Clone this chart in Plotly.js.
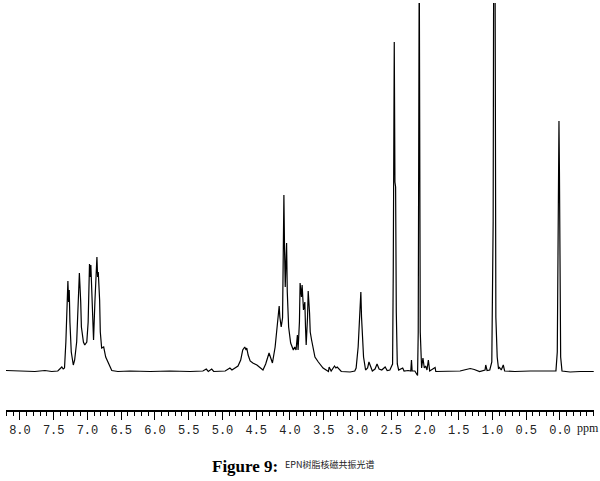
<!DOCTYPE html>
<html>
<head>
<meta charset="utf-8">
<script src="https://cdn.plot.ly/plotly-3.0.1.min.js"></script>
<style>html,body{margin:0;padding:0;background:#fff;}#chart{width:600px;height:481px;}</style>
</head>
<body>
<div id="chart"></div>
<script>
// chemical shift (ppm)
var ppm = [8.21,8.00,7.78,7.63,7.53,7.44,7.38,7.36,7.34,7.32,7.30,7.29,7.28,7.27,7.26,7.24,7.21,7.19,7.16,7.14,7.12,7.10,7.09,7.06,7.04,7.01,6.99,6.97,6.96,6.95,6.93,6.91,6.89,6.86,6.85,6.84,6.82,6.81,6.79,6.76,6.73,6.69,6.64,6.55,6.37,6.07,5.78,5.48,5.29,5.24,5.21,5.16,5.13,4.96,4.89,4.86,4.81,4.77,4.73,4.70,4.67,4.65,4.64,4.62,4.59,4.55,4.49,4.44,4.40,4.36,4.31,4.29,4.26,4.22,4.20,4.18,4.16,4.15,4.13,4.11,4.09,4.08,4.07,4.06,4.05,4.04,4.02,3.99,3.95,3.93,3.91,3.89,3.88,3.86,3.85,3.83,3.82,3.80,3.78,3.77,3.76,3.74,3.73,3.71,3.70,3.68,3.65,3.63,3.58,3.55,3.51,3.43,3.42,3.39,3.34,3.32,3.30,3.24,3.11,3.04,3.02,2.99,2.97,2.95,2.94,2.91,2.88,2.85,2.83,2.80,2.78,2.74,2.71,2.68,2.64,2.59,2.56,2.52,2.48,2.47,2.455,2.445,2.435,2.425,2.41,2.39,2.33,2.31,2.25,2.21,2.20,2.19,2.15,2.11,2.10,2.085,2.07,2.05,2.03,2.01,1.99,1.97,1.95,1.93,1.85,1.84,1.70,1.48,1.39,1.33,1.27,1.19,1.11,1.10,1.08,1.04,1.01,0.99,0.982,0.975,0.968,0.962,0.95,0.93,0.91,0.90,0.87,0.84,0.82,0.67,0.44,0.15,0.06,0.04,0.022,0.015,0.008,-0.01,-0.03,-0.15,-0.30,-0.50];
// signal intensity (arbitrary units, baseline = 0)
var intensity = [1.5,1,0.5,1.5,0.5,1,5,3,4,30,70,91,70,82,50,20,7,12,30,75,99,70,45,30,27,30,50,108,95,107,60,32,70,115,95,100,72,40,24,25,15,9,1.5,0.5,1,0.5,1,0.5,1,3,0.5,3,0.5,1,4,2,4,6,12,22,25,22,24,17,11,9,7,4,2,8,19,15,9,25,39,55,66,55,45,54,177,120,85,110,129,80,45,29,22,25,22,37,22,50,89,75,87,62,70,45,27,55,81,59,40,32,20,15,10,7,4,0.5,5,1,6,4,5,0.5,0,1,4,25,55,80,55,15,2,4,10,4,1,3,8,3,2,5,1.5,2,8,100,330,190,185,60,8,2,4,1,1.5,1,12,1,1,-3.5,40,420,40,4,14,4,6,2,12,1,4.5,0.5,0.5,1,2.5,3.5,2.5,0.5,2,7,1.5,2,10,150,420,420,420,420,55,15,3,5,2,7,1,0.5,1,0.5,1,20,200,251,200,15,1,0,0.5,0.5];
// axis tick labels
var tickVals = [8.0,7.5,7.0,6.5,6.0,5.5,5.0,4.5,4.0,3.5,3.0,2.5,2.0,1.5,1.0,0.5,0.0];
var tickText = ['8.0','7.5','7.0','6.5','6.0','5.5','5.0','4.5','4.0','3.5','3.0','2.5','2.0','1.5','1.0','0.5','0.0'];
var unitLabel = 'ppm';
var captionBold = 'Figure 9:';
var captionText = 'EPN树脂核磁共振光谱';

var trace = {
  x: ppm, y: intensity, type: 'scatter', mode: 'lines',
  line: {color: '#000', width: 1.2}, hoverinfo: 'skip'
};

var layout = {
  width: 600, height: 481,
  margin: {l: 6, r: 6, t: 3, b: 71, pad: 0},
  paper_bgcolor: '#fff', plot_bgcolor: '#fff',
  showlegend: false,
  xaxis: {
    range: [8.207, -0.504],
    tickmode: 'array', tickvals: tickVals, ticktext: tickText,
    ticks: 'outside', ticklen: 8, tickwidth: 1, tickcolor: '#000',
    showline: true, linewidth: 2, linecolor: '#000',
    showgrid: false, zeroline: false,
    tickfont: {family: 'Liberation Mono, monospace', size: 12, color: '#222'},
    minor: {tickmode: 'linear', tick0: 0, dtick: 0.1, ticks: 'outside', ticklen: 4, tickwidth: 1, tickcolor: '#000', showgrid: false}
  },
  yaxis: {range: [-38, 369], visible: false, fixedrange: true},
  annotations: [
    {xref: 'x', x: -0.42, yref: 'paper', y: 0, yshift: -18, yanchor: 'middle', xanchor: 'center',
     text: unitLabel, showarrow: false, font: {family: 'Liberation Serif, serif', size: 12, color: '#111'}},
    {xref: 'paper', x: 0.466, yref: 'paper', y: 0, yshift: -56, yanchor: 'middle', xanchor: 'right',
     text: '<b>' + captionBold + '</b>', showarrow: false, font: {family: 'Liberation Serif, serif', size: 17, color: '#000'}},
    {xref: 'paper', x: 0.471, yref: 'paper', y: 0, yshift: -54, yanchor: 'middle', xanchor: 'left',
     text: captionText, showarrow: false, font: {family: 'Noto Sans CJK SC, sans-serif', size: 9, color: '#222'}}
  ]
};

Plotly.newPlot('chart', [trace], layout, {staticPlot: true, displayModeBar: false});
</script>
</body>
</html>
